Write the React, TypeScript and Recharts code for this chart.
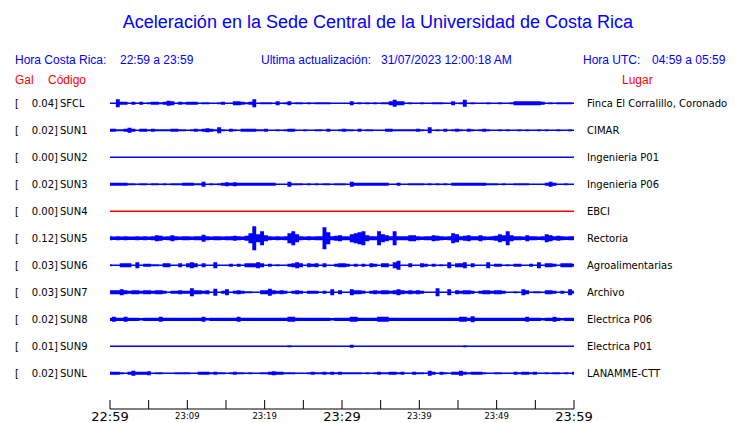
import React from 'react';
import { ComposedChart, Area, XAxis, YAxis } from 'recharts';

const STATIONS = ['SFCL', 'SUN1', 'SUN2', 'SUN3', 'SUN4', 'SUN5', 'SUN6', 'SUN7', 'SUN8', 'SUN9', 'SUNL'];
const PEAKS = ['0.04', '0.02', '0.00', '0.02', '0.00', '0.12', '0.03', '0.03', '0.02', '0.01', '0.02'];
const PLACES = [
  'Finca El Corralillo, Coronado', 'CIMAR', 'Ingenieria P01', 'Ingenieria P06', 'EBCI', 'Rectoria',
  'Agroalimentarias', 'Archivo', 'Electrica P06', 'Electrica P01', 'LANAMME-CTT',
];
const TRACE_COLORS = ['#0000ff', '#0000ff', '#0000ff', '#0000ff', '#ff0000', '#0000ff', '#0000ff', '#0000ff', '#0000ff', '#0000ff', '#0000ff'];

const TICK_MINUTES = [0, 5, 10, 15, 20, 25, 30, 35, 40, 45, 50, 55, 60];
const TICK_LABELS: Record<number, string> = { 0: '22:59', 10: '23:09', 20: '23:19', 30: '23:29', 40: '23:39', 50: '23:49', 60: '23:59' };
const BIG_TICKS = [0, 30, 60];

// Envelope half-amplitudes (approx. px), one value every ~30 s
const AMP_SFCL = [
  0, 0, 4, 1.5, 1.5, 0, 1.5, 0, 1.5, 0, 1, 1.5, 1.5, 1, 1.5, 2.5, 2, 0, 1.5, 1,
  1.5, 1.5, 1.5, 0, 1, 1, 0, 0, 1, 1.5, 0, 0, 2, 2, 1.5, 1, 1.5, 4, 0, 1,
  1, 1, 0, 2, 0, 1, 2, 0, 1, 1, 0, 1, 0, 1, 1, 1, 1, 0, 0, 0,
  0, 0, 2, 0, 1, 0, 1, 0, 1, 0, 1, 1, 2, 3.5, 2, 2, 0, 1, 0, 0,
  1, 0, 0, 1, 1, 1, 0, 0, 2, 0, 1, 3.5, 0, 1, 0, 0, 0, 1, 0, 0,
  1, 0, 0, 1, 2, 2, 2, 2, 2, 2, 2, 1.5, 0, 1, 0, 1, 1, 1, 1, 0,
];
const AMP_SUN1 = [
  1.5, 1.5, 1, 1, 1.5, 2.5, 1.5, 0, 1.5, 1.5, 1, 1.5, 1, 1, 1, 1, 1.5, 1.5, 1, 1,
  0, 1, 1.5, 1, 1.5, 2, 1.5, 1, 3, 1, 0, 1.5, 1, 0, 1.5, 1.5, 1.5, 1.5, 1, 1,
  1.5, 0, 0, 1, 0, 1, 1.5, 1.5, 0, 0, 1, 0, 0, 1, 1, 0, 1.5, 0, 0, 1,
  1.5, 1, 1, 0, 1.5, 0, 1, 1, 0, 0, 0, 1.5, 1.5, 1, 1, 1, 1, 1, 1, 1.5,
  1, 0, 3, 0, 1, 0, 1.5, 0, 1, 1.5, 1, 0, 1.5, 1, 0, 1, 1.5, 1, 0, 0,
  1, 0, 1, 0, 0, 1, 0, 1, 0, 0, 1, 0, 1, 0, 0, 1, 0, 0, 1, 0,
];
const AMP_SUN2 = [
  0, 0, 0, 0, 0, 0, 0, 0, 0, 0, 0, 0, 0, 0, 0, 0, 0, 0, 0, 0,
  0, 0, 0, 0, 0, 0, 0, 0, 0, 0, 0, 0, 0, 0, 0, 0, 0, 0, 0, 0,
  0, 0, 0, 0, 0, 0, 0, 0, 0, 0, 0, 0, 0, 0, 0, 0, 0, 0, 0, 0,
  0, 0, 0, 0, 0, 0, 0, 0, 0, 0, 0, 0, 0, 0, 0, 0, 0, 0, 0, 0,
  0, 0, 0, 0, 0, 0, 0, 0, 0, 0, 0, 0, 0, 0, 0, 0, 0, 0, 0, 0,
  0, 0, 0, 0, 0, 0, 0, 0, 0, 0, 0, 0, 0, 0, 0, 0, 0, 0, 0, 0,
];
const AMP_SUN3 = [
  1.5, 1.5, 1.5, 1.5, 1.5, 1, 1, 0, 1, 1, 0, 1, 1, 0, 1, 0, 1, 1, 1, 1.5,
  1.5, 1.5, 1, 1, 2.5, 0, 1, 0, 1, 1.5, 2, 1.5, 2, 1.5, 1.5, 1.5, 1.5, 1.5, 1.5, 1.5,
  1.5, 1.5, 1.5, 0, 0, 0, 2.5, 1, 1, 1, 0, 1, 0, 1, 0, 1, 1, 0, 1, 1,
  1, 0, 2.5, 1.5, 1.5, 1.5, 1.5, 1.5, 1.5, 1.5, 1.5, 1.5, 0, 0, 1.5, 0, 0, 1, 1, 1,
  1, 0, 1, 0, 1, 0, 1, 0, 1.5, 1.5, 1.5, 1.5, 1.5, 1.5, 1.5, 1.5, 1.5, 1, 1, 1,
  0, 1, 0, 0, 1, 1, 1, 1, 0, 0, 0, 0, 1.5, 2.5, 1.5, 0, 0, 1, 0, 0,
];
const AMP_SUN4 = [
  0, 0, 0, 0, 0, 0, 0, 0, 0, 0, 0, 0, 0, 0, 0, 0, 0, 0, 0, 0,
  0, 0, 0, 0, 0, 0, 0, 0, 0, 0, 0, 0, 0, 0, 0, 0, 0, 0, 0, 0,
  0, 0, 0, 0, 0, 0, 0, 0, 0, 0, 0, 0, 0, 0, 0, 0, 0, 0, 0, 0,
  0, 0, 0, 0, 0, 0, 0, 0, 0, 0, 0, 0, 0, 0, 0, 0, 0, 0, 0, 0,
  0, 0, 0, 0, 0, 0, 0, 0, 0, 0, 0, 0, 0, 0, 0, 0, 0, 0, 0, 0,
  0, 0, 0, 0, 0, 0, 0, 0, 0, 0, 0, 0, 0, 0, 0, 0, 0, 0, 0, 0,
];
const AMP_SUN5 = [
  2, 1.7, 2, 1.7, 2, 1.7, 1.7, 2, 1.7, 2, 1.7, 2, 3, 2.5, 1.7, 2, 3, 2, 1.7, 2,
  2, 1.7, 2, 2, 3.5, 2, 1.7, 2, 2, 1.7, 2, 2, 2.5, 2, 1.7, 2.5, 5, 12, 4, 7,
  3, 2, 1.7, 2, 1.7, 2, 5, 7, 4, 2, 1.7, 2, 1.7, 2, 2, 11, 6, 2, 2.5, 3,
  2, 2, 4, 5, 6, 7, 3, 2, 2, 7, 4, 3, 2, 7, 2, 2, 2, 3, 3, 2,
  1.7, 2, 2, 3, 2.5, 2, 1.7, 2, 5, 4, 2, 2.5, 3, 2, 2, 3, 2, 1.7, 2, 2.5,
  4, 3, 7, 3, 2, 2, 1.7, 3, 2, 2, 1.7, 2, 4, 3, 2, 2.5, 2, 1.7, 2, 2,
];
const AMP_SUN6 = [
  1, 0, 0, 2, 2, 2, 0, 3, 0, 1.5, 1.5, 1, 1, 0, 2, 2, 0, 0, 2, 0,
  2, 3, 2, 0, 2, 0, 0, 3, 0, 0, 0, 1.5, 0, 1.5, 0, 2, 2, 2, 3, 2,
  0, 1.5, 0, 1, 0, 0, 1.5, 2, 3, 2, 0, 2, 1.5, 2, 0, 2, 0, 0, 1.5, 2,
  2, 1.5, 0, 1.5, 0, 1.5, 0, 2, 1.5, 0, 2, 2, 0, 3, 4.5, 0, 0, 2, 0, 0,
  2, 1.5, 0, 1.5, 0, 1, 0, 3, 0, 2, 2, 3, 0, 2, 0, 0, 0, 3, 0, 1.5,
  1.5, 0, 1, 0, 1.5, 1.5, 0, 0, 1.5, 0, 3, 0, 2, 2, 1.5, 0, 2, 2, 2, 1.5,
];
const AMP_SUN7 = [
  2, 2, 2, 3, 2, 1.5, 2, 2, 1.5, 2, 2, 1.5, 2, 2, 1.5, 0, 1.5, 1.5, 2, 1.5,
  1.5, 4, 2, 2, 1.5, 2, 0, 3.5, 0, 1.5, 3, 0, 1.5, 2, 1.5, 1, 1, 0, 0, 2,
  2, 3.5, 2, 1.5, 2, 1.5, 0, 1.5, 2, 1.5, 0, 1.5, 1.5, 1.5, 0, 1.5, 0, 3, 0, 2,
  0, 0, 3, 2, 2, 1.5, 0, 1.5, 2, 1.5, 2, 2, 1.5, 2, 3, 2, 1.5, 2, 1.5, 2,
  1.5, 0, 0, 0, 4, 0, 0, 3, 0, 2, 1.5, 2, 2, 1.5, 0, 1.5, 2, 2, 1.5, 2,
  2, 1.5, 0, 0, 1, 0, 3, 2, 0, 1, 1, 0, 2, 2, 1.5, 0, 1.5, 0, 3, 1.5,
];
const AMP_SUN8 = [
  1.6, 2.5, 1.6, 1.6, 2.5, 1.6, 1.6, 1.6, 1.2, 1.6, 1.6, 1.6, 1.6, 2.5, 1.6, 1.6, 1.6, 1.6, 1.6, 1.6,
  1.6, 1.6, 1.6, 1.6, 2.5, 1.2, 1.6, 1.6, 1.6, 1.6, 1.6, 1.6, 1.6, 2.5, 1.6, 1.6, 1.6, 1.6, 1.6, 1.6,
  1.6, 1.6, 1.6, 1.6, 1.6, 1.6, 2.5, 2.5, 1.6, 1.6, 1.6, 1.6, 1.6, 1.6, 1.6, 1.6, 1.6, 1.2, 1.6, 1.6,
  1.6, 1.6, 2.5, 2.5, 1.6, 1.6, 1.6, 1.6, 1.6, 2.5, 2.5, 2.5, 1.6, 1.6, 1.6, 1.6, 1.6, 1.6, 1.6, 1.6,
  1.6, 1.6, 1.6, 1.6, 1.6, 1.6, 1.6, 1.6, 1.6, 1.6, 2.5, 2.5, 1.6, 3, 1.6, 1.6, 1.6, 1.6, 1.6, 1.6,
  1.6, 1.6, 1.6, 1.6, 1.6, 1.6, 1.6, 2.5, 1.6, 1.6, 1.6, 1.2, 1.6, 1.6, 2.5, 1.6, 1.2, 1.6, 1.6, 1.6,
];
const AMP_SUN9 = [
  0, 0, 0, 0, 0, 0, 0, 0, 0, 0, 0, 0, 0, 0, 0, 0, 0, 0, 0, 0,
  0, 0, 0, 0, 0, 0, 0, 0, 0, 0, 0, 0, 0, 0, 0, 0, 0, 0, 0, 0,
  0, 0, 0, 0, 0, 0, 1, 0, 0, 0, 0, 0, 0, 0, 0, 0, 0, 0, 0, 0,
  0, 0, 1.5, 0, 0, 0, 0, 0, 0, 0, 0, 0, 0, 0, 0, 0, 0, 0, 0, 0,
  0, 0, 0, 0, 0, 0, 0, 0, 0, 0, 0, 1, 0, 0, 0, 0, 0, 0, 0, 0,
  0, 0, 0, 0, 0, 0, 0, 0, 0, 0, 0, 0, 0, 0, 0, 0, 0, 0, 0, 0,
];
const AMP_SUNL = [
  1.5, 1.5, 1.5, 1, 0, 1.5, 2.5, 1.5, 1.5, 1.5, 2, 0, 1, 1, 0, 0, 0, 1, 1, 1,
  1, 0, 0, 1.5, 1.5, 1.5, 1, 1.5, 1, 1, 0, 1, 1.5, 1, 1, 0, 1, 0, 0, 1,
  1, 1.5, 2, 1.5, 1.5, 1, 1, 1, 0, 0, 0, 1, 1.5, 1, 1, 1.5, 1, 1.5, 1, 1.5,
  1, 1, 1, 1, 1, 0, 1, 0, 1, 1.5, 1, 1, 1.5, 1.5, 1, 1.5, 0, 0, 1.5, 1,
  1, 0, 2.5, 1.5, 0, 1.5, 1, 0, 1.5, 1.5, 2.5, 1.5, 1, 1.5, 1.5, 1.5, 1, 0, 0, 1,
  1, 0, 0, 0, 1.5, 1, 1.5, 1.5, 1, 1.5, 0, 0, 1, 0, 1, 1, 0, 1, 0, 1.5,
];

const AMPS = [AMP_SFCL, AMP_SUN1, AMP_SUN2, AMP_SUN3, AMP_SUN4, AMP_SUN5, AMP_SUN6, AMP_SUN7, AMP_SUN8, AMP_SUN9, AMP_SUNL];

// layout (px)
const W = 740;
const H = 423;
const PLOT_TOP = 88;
const AXIS_Y = 409;
const PLOT_H = AXIS_Y - PLOT_TOP;
const FIRST_CENTER = 103.3;
const SPACING = 27;
const MIN_HALF = 0.75;

const CENTERS = STATIONS.map((_, i) => AXIS_Y - (FIRST_CENTER + i * SPACING));
const N = AMP_SFCL.length;

const data = AMP_SFCL.map((_, k) => {
  const row: any = { t: (k * 60) / (N - 1) };
  AMPS.forEach((arr, i) => {
    const a = Math.max(arr[k], MIN_HALF);
    row['s' + i] = [CENTERS[i] - a, CENTERS[i] + a];
  });
  return row;
});

const LBL_FONT = 'DejaVu Sans, Verdana, sans-serif';
const HDR_FONT = 'Liberation Sans, Arial, sans-serif';

const StationTick = (props: any) => {
  const { y, payload } = props;
  let i = 0;
  let best = Infinity;
  CENTERS.forEach((c, j) => {
    const d = Math.abs(c - payload.value);
    if (d < best) { best = d; i = j; }
  });
  const ty = y + 3.7;
  return (
    <g fontFamily={LBL_FONT} fontSize={10} fill="#000">
      <text x={15} y={ty}>[</text>
      <text x={58} y={ty} textAnchor="end">{PEAKS[i] + ']'}</text>
      <text x={60} y={ty}>{STATIONS[i]}</text>
      <text x={587} y={ty}>{PLACES[i]}</text>
    </g>
  );
};

const TimeTick = (props: any) => {
  const { x, y, payload } = props;
  const v = payload.value;
  const label = TICK_LABELS[v];
  const big = BIG_TICKS.includes(v);
  return (
    <g>
      <line x1={x} x2={x} y1={y - 9} y2={y} stroke="#000" strokeWidth={1} />
      {label && (
        <text x={x} y={big ? y + 12 : y + 10} textAnchor="middle" fontFamily={LBL_FONT} fontSize={big ? 13 : 8.5} fill="#000">
          {label}
        </text>
      )}
    </g>
  );
};

export default function App() {
  return (
    <div style={{ position: 'absolute', left: 0, top: 0, width: W, height: H, background: '#fff' }}>
      <ComposedChart width={W} height={H} data={data} margin={{ top: PLOT_TOP, right: 166, bottom: 0, left: 0 }}>
        <XAxis
          dataKey="t"
          type="number"
          domain={[0, 60]}
          ticks={TICK_MINUTES}
          interval={0}
          height={H - AXIS_Y}
          tickSize={0}
          tickMargin={0}
          tickLine={false}
          axisLine={{ stroke: '#000', strokeWidth: 1 }}
          tick={<TimeTick />}
        />
        <YAxis
          type="number"
          domain={[0, PLOT_H]}
          ticks={CENTERS}
          interval={0}
          width={110}
          axisLine={false}
          tickLine={false}
          tick={<StationTick />}
        />
        {STATIONS.map((s, i) => (
          <Area
            key={s}
            type="step"
            dataKey={'s' + i}
            stroke="none"
            fill={TRACE_COLORS[i]}
            fillOpacity={1}
            dot={false}
            activeDot={false}
            isAnimationActive={false}
          />
        ))}
      </ComposedChart>
      <svg width={W} height={90} style={{ position: 'absolute', left: 0, top: 0, pointerEvents: 'none' }}>
        <text x={378} y={28} textAnchor="middle" fontFamily={HDR_FONT} fontSize={18} fill="#0000ff">
          Aceleración en la Sede Central de la Universidad de Costa Rica
        </text>
        <g fontFamily={HDR_FONT} fontSize={12} fill="#0000ff">
          <text x={15} y={64}>Hora Costa Rica:</text>
          <text x={120} y={64}>22:59 a 23:59</text>
          <text x={261} y={64}>Ultima actualización:</text>
          <text x={381} y={64}>31/07/2023 12:00:18 AM</text>
          <text x={583} y={64}>Hora UTC:</text>
          <text x={652} y={64}>04:59 a 05:59</text>
        </g>
        <g fontFamily={HDR_FONT} fontSize={12} fill="#ff0000">
          <text x={15} y={84}>Gal</text>
          <text x={48} y={84}>Código</text>
          <text x={622} y={84}>Lugar</text>
        </g>
      </svg>
    </div>
  );
}
